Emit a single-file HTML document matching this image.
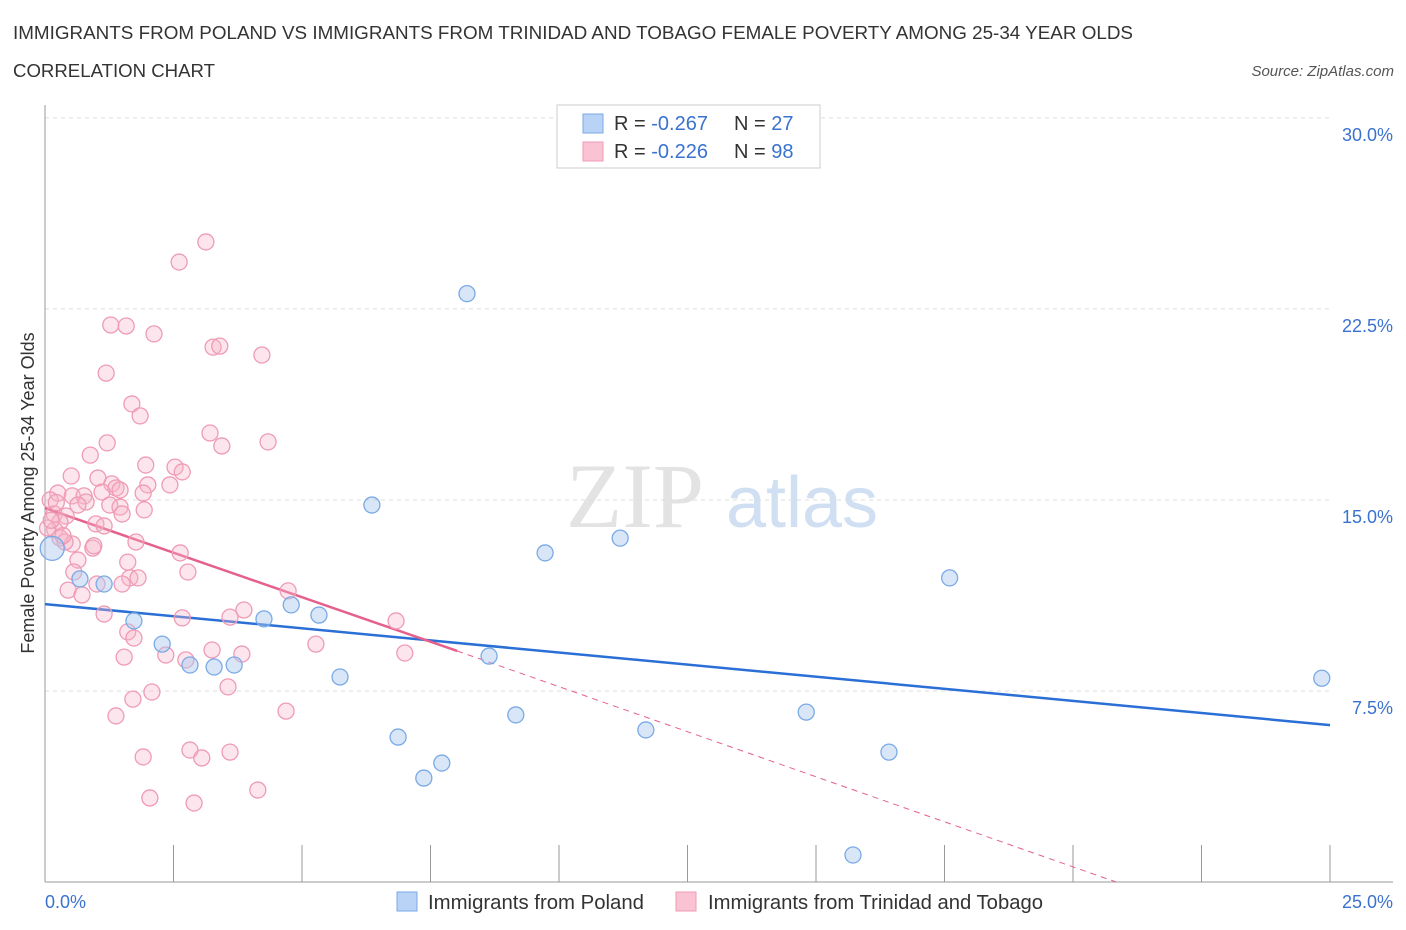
<!DOCTYPE html>
<html><head><meta charset="utf-8"><style>
body{margin:0;background:#fff;font-family:"Liberation Sans",sans-serif;}
svg{display:block}
</style></head><body>
<svg id="chart" width="1406" height="930" viewBox="0 0 1406 930" xmlns="http://www.w3.org/2000/svg">
<text x="13" y="39" font-size="18" fill="#333" textLength="1120" lengthAdjust="spacingAndGlyphs">IMMIGRANTS FROM POLAND VS IMMIGRANTS FROM TRINIDAD AND TOBAGO FEMALE POVERTY AMONG 25-34 YEAR OLDS</text>
<text x="13" y="77" font-size="18" fill="#333" textLength="202" lengthAdjust="spacingAndGlyphs">CORRELATION CHART</text>
<text x="1394" y="76" font-size="15" fill="#555" font-style="italic" text-anchor="end">Source: ZipAtlas.com</text>
<g>
<text x="635" y="527" font-size="92" fill="#ddd" font-family="Liberation Serif" text-anchor="middle" opacity="0.8">ZIP</text>
<text x="802" y="527" font-size="72" fill="#c5d8ee" text-anchor="middle" opacity="0.8">atlas</text>
</g>
<g id="grid"></g>
<g id="axes"></g>
<g id="trend"></g>
<g id="points"></g>
<text transform="translate(34,493) rotate(-90)" font-size="18" fill="#333" text-anchor="middle">Female Poverty Among 25-34 Year Olds</text>
<g>
<rect x="557" y="105" width="263" height="63" fill="#fff" stroke="#ccc"/>
<rect x="583" y="114" width="20" height="19" fill="#b8d3f5" stroke="#7aaae6"/>
<rect x="583" y="142" width="20" height="19" fill="#f9c3d3" stroke="#ef9bb5"/>
<text x="614" y="130" font-size="20" fill="#333">R = <tspan fill="#3a72d0">-0.267</tspan></text>
<text x="734" y="130" font-size="20" fill="#333">N = <tspan fill="#3a72d0">27</tspan></text>
<text x="614" y="158" font-size="20" fill="#333">R = <tspan fill="#3a72d0">-0.226</tspan></text>
<text x="734" y="158" font-size="20" fill="#333">N = <tspan fill="#3a72d0">98</tspan></text>
</g>
<g>
<rect x="397" y="892" width="20" height="19" fill="#b8d3f5" stroke="#7aaae6"/>
<text x="428" y="909" font-size="20" fill="#333" textLength="216" lengthAdjust="spacingAndGlyphs">Immigrants from Poland</text>
<rect x="676" y="892" width="20" height="19" fill="#f9c3d3" stroke="#ef9bb5"/>
<text x="708" y="909" font-size="20" fill="#333" textLength="335" lengthAdjust="spacingAndGlyphs">Immigrants from Trinidad and Tobago</text>
</g>
</svg>
<script>
const yTicks=[7.5,15,22.5,30];
const yTickLabels=["7.5%","15.0%","22.5%","30.0%"];
const polandX=[0.14,0.68,1.15,1.73,2.28,2.82,3.29,3.68,4.26,4.79,5.33,5.74,6.36,6.87,7.37,7.72,8.21,8.64,9.16,9.73,11.19,11.69,14.81,15.72,16.42,17.6,24.84];
const polandY=[13.1,11.9,11.7,10.25,9.34,8.52,8.44,8.52,10.33,10.88,10.48,8.05,14.8,5.69,4.08,4.67,23.1,8.87,6.56,12.92,13.5,5.97,6.67,1.06,5.1,11.94,8.0];
const trinX=[3.13,2.61,1.28,1.58,2.12,3.27,3.40,4.22,1.19,1.69,1.85,3.21,3.44,4.34,1.21,0.88,1.96,2.53,2.67,0.51,1.03,1.30,1.38,2.43,2.00,1.11,1.46,1.91,0.25,0.10,0.53,0.76,0.80,1.26,1.46,0.64,1.93,0.18,0.41,1.50,0.29,0.99,1.15,0.19,0.29,0.53,0.39,1.77,0.93,2.63,0.64,1.61,0.56,2.78,1.65,1.81,1.50,1.01,0.45,0.72,4.73,3.87,6.83,1.15,2.67,3.60,1.61,1.73,5.27,3.25,3.83,1.54,2.35,2.74,7.00,3.56,2.08,1.71,4.69,1.38,2.82,3.60,3.05,1.91,4.14,2.04,2.90,0.05,0.12,0.35,0.22,0.95];
const trinY=[25.13,24.34,21.87,21.83,21.52,21.0,21.04,20.69,19.98,18.77,18.30,17.63,17.12,17.28,17.24,16.76,16.37,16.29,16.10,15.94,15.86,15.63,15.47,15.59,15.59,15.31,15.39,15.27,15.27,15.0,15.16,15.16,14.92,14.80,14.72,14.80,14.61,14.45,14.37,14.45,14.13,14.06,13.98,13.82,13.51,13.27,13.35,13.35,13.11,12.92,12.64,12.56,12.17,12.17,11.94,11.94,11.70,11.70,11.46,11.27,11.43,10.68,10.25,10.52,10.37,10.40,9.82,9.58,9.34,9.11,8.95,8.83,8.91,8.72,8.99,7.66,7.46,7.18,6.71,6.52,5.18,5.10,4.87,4.91,3.61,3.30,3.10,13.9,14.2,13.6,14.9,13.2];
const polandTrend=[[0,10.91],[25,6.16]];
const trinTrend=[[0,14.68],[8.02,9.07]];
const trinDash=[[8.02,9.07],[20.84,0]];
const NS="http://www.w3.org/2000/svg";
const X=v=>45+v*51.4, Y=v=>882-v*25.47;
function mk(t,a,p){const e=document.createElementNS(NS,t);for(const k in a)e.setAttribute(k,a[k]);p.appendChild(e);return e;}
const grid=document.getElementById('grid'),axes=document.getElementById('axes');
yTicks.forEach((t,i)=>{
 const l=mk('line',{x1:45,x2:1330,y1:Y(t),y2:Y(t),stroke:'#ddd','stroke-dasharray':'4,4'},grid);
 
 
 const tx=mk('text',{x:1393,y:Y(t)+23,'font-size':18,fill:'#3a72d0','text-anchor':'end'},axes);
 tx.textContent=yTickLabels[i];
 
 
});
const xa=mk('line',{x1:45,x2:1393,y1:882,y2:882,stroke:'#999'},axes);


const ya=mk('line',{x1:45,x2:45,y1:105,y2:882,stroke:'#999'},axes);


for(let i=0;i<=10;i++){const t=mk('line',{x1:X(i*2.5),x2:X(i*2.5),y1:845,y2:882,stroke:'#999'},axes);
 
 }
[["0.0%",45,'start'],["25.0%",1393,'end']].forEach(d=>{const t=mk('text',{x:d[1],y:908,'font-size':18,fill:'#3a72d0','text-anchor':d[2]},axes);t.textContent=d[0];
 
 });
const pts=document.getElementById('points');
trinX.forEach((x,i)=>{const c=mk('circle',{cx:X(x),cy:Y(trinY[i]),r:8,fill:'rgba(247,180,200,0.35)',stroke:'#ef9bb5','stroke-width':1.3},pts);
 
 });
polandX.forEach((x,i)=>{const c=mk('circle',{cx:X(x),cy:Y(polandY[i]),r:i==0?12:8,fill:'rgba(170,200,240,0.45)',stroke:'#7aaae6','stroke-width':1.3},pts);
 
 });
const tr=document.getElementById('trend');
const l1=mk('line',{x1:X(polandTrend[0][0]),y1:Y(polandTrend[0][1]),x2:X(polandTrend[1][0]),y2:Y(polandTrend[1][1]),stroke:'#2a6fd6','stroke-width':2.5},tr);


const l2=mk('line',{x1:X(trinTrend[0][0]),y1:Y(trinTrend[0][1]),x2:X(trinTrend[1][0]),y2:Y(trinTrend[1][1]),stroke:'#e5608c','stroke-width':2.5},tr);


const l3=mk('line',{x1:X(trinDash[0][0]),y1:Y(trinDash[0][1]),x2:X(trinDash[1][0]),y2:Y(trinDash[1][1]),stroke:'#e5608c','stroke-width':1,'stroke-dasharray':'6,5'},tr);


</script>
</body></html>
